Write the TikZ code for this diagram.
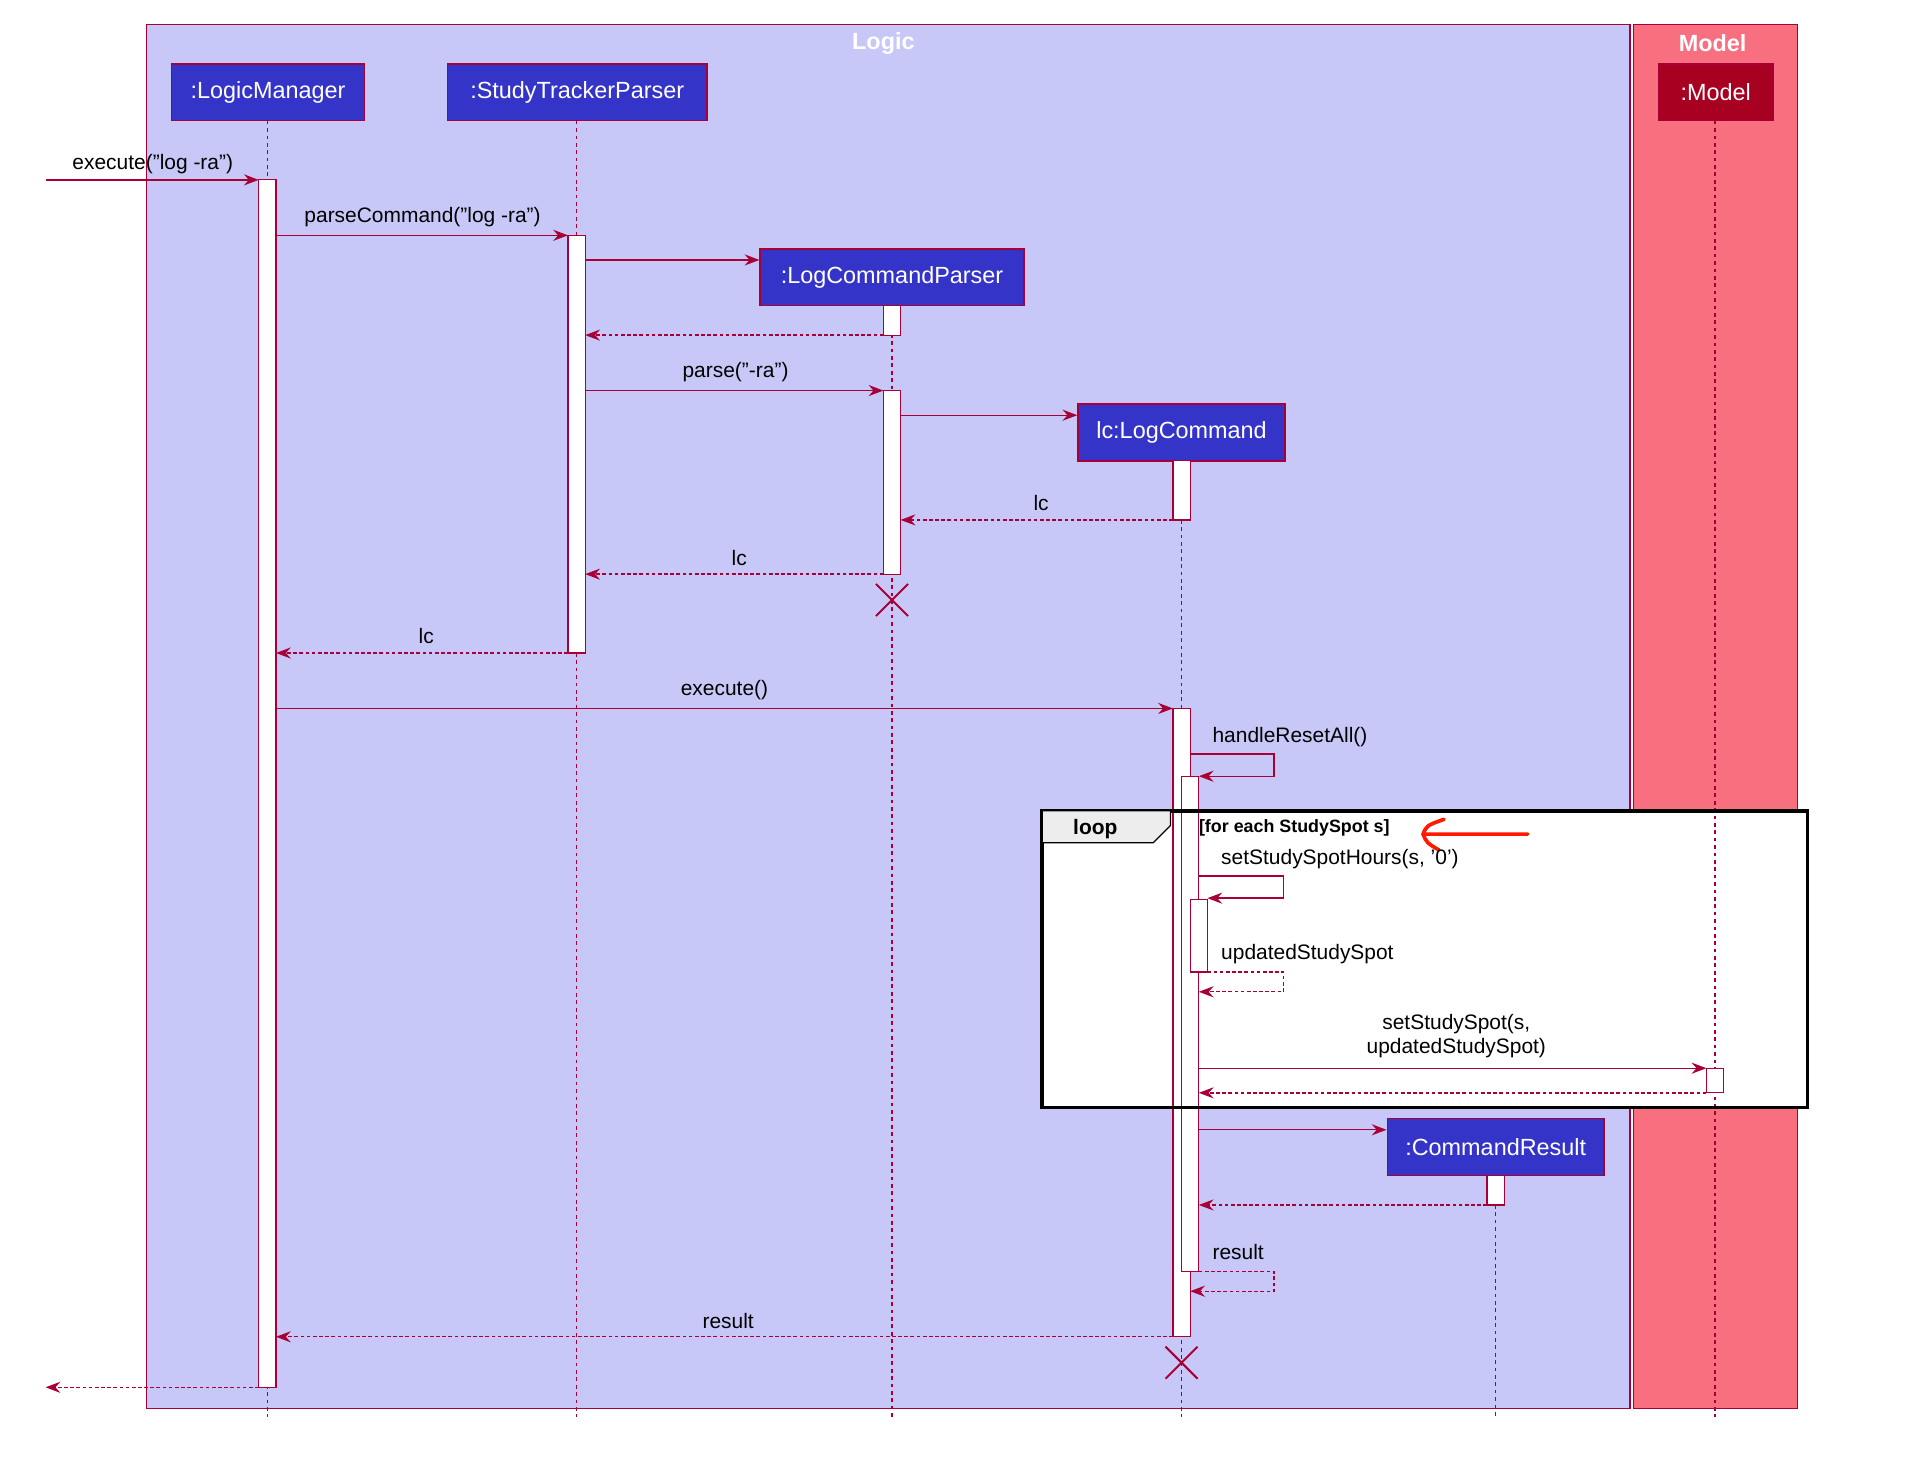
\documentclass[tikz,border=0pt]{standalone}
\usepackage{fontspec}
\setmainfont{Liberation Sans}
\usetikzlibrary{arrows.meta}
\definecolor{ln}{RGB}{168,0,54}
\definecolor{lg}{RGB}{200,200,248}
\definecolor{md}{RGB}{248,112,128}
\definecolor{pt}{RGB}{52,52,200}
\definecolor{mdp}{RGB}{168,0,32}
\newcommand\dq{\symbol{34}}
\newcommand\sq{\symbol{39}}
\begin{document}
\begin{tikzpicture}[x=1pt,y=-1pt,
 part/.style={draw=ln,fill=pt,text=white,font=\fontsize{19}{21}\selectfont,minimum height=46,inner xsep=2,line width=1.2},
 act/.style={draw=ln,fill=white,line width=1},
 life/.style={draw=ln,dashed,line width=0.9},
 msg/.style={draw=ln,line width=1.1,-{Stealth[length=12,width=9,inset=4]}},
 ret/.style={msg,dash pattern=on 3pt off 2pt},
 lab/.style={font=\fontsize{17}{19}\selectfont,inner sep=1},
 xx/.style={draw=ln,line width=1.6}]
\useasboundingbox (0,0) rectangle (1560,1190);
\fill[white] (0,0) rectangle (1560,1190);
\draw[ln,fill=lg,line width=1.2] (119,20) rectangle (1323,1143);
\draw[ln,fill=md,line width=1.2] (1326,20) rectangle (1459,1143);
\node[text=white,font=\bfseries\fontsize{19}{21}\selectfont] (tl) at (717,35) {Logic};
\node[text=white,font=\bfseries\fontsize{19}{21}\selectfont] (tm) at (1390,35) {Model};
% loop background
\fill[white] (846,658) rectangle (1467,899);
% lifelines
\draw[life] (217,98) -- (217,1150);
\draw[life] (468,98) -- (468,1150);
\draw[life] (724,247) -- (724,1150);
\draw[life] (959,374) -- (959,1150);
\draw[life] (1214,954) -- (1214,1150);
\draw[life] (1392,98) -- (1392,1150);
% participants
\node[part,minimum width=157] (lm) at (217.5,75) {:LogicManager};
\node[part,minimum width=211] (stp) at (468.5,75) {:StudyTrackerParser};
\node[part,fill=mdp,minimum width=93] (mo) at (1392.5,75) {:Model};
\node[part,minimum width=214] (lcp) at (724,225) {:LogCommandParser};
\node[part,minimum width=168] (lc) at (959,351) {lc:LogCommand};
\node[part,minimum width=176] (cr) at (1214,931) {:CommandResult};
% activations
\draw[act] (210,146) rectangle (224,1126);
\draw[act] (461,191) rectangle (475,530);
\draw[act] (717,248) rectangle (731,272);
\draw[act] (717,317) rectangle (731,466);
\draw[act] (952,374) rectangle (966,422);
\draw[act] (952,575) rectangle (966,1085);
\draw[act] (959,630) rectangle (973,1032);
\draw[act] (966,730) rectangle (980,789);
\draw[act] (1385,867) rectangle (1399,887);
\draw[act] (1207,954) rectangle (1221,978);
% destroy
\draw[xx] (711,474) -- (737,500) (737,474) -- (711,500);
\draw[xx] (946,1093) -- (972,1119) (972,1093) -- (946,1119);
% loop frame
\draw[black,line width=3] (846,658) rectangle (1467,899);
\draw[black,fill=black!7,line width=1] (846,658) -- (950,658) -- (950,670) -- (936,684) -- (846,684) -- cycle;
\node[font=\bfseries\fontsize{17}{19}\selectfont] (lt) at (889,673) {loop};
\node[anchor=west,font=\bfseries\fontsize{14.5}{16}\selectfont,inner sep=0] (gd) at (973,672) {[for each StudySpot s]};
\coordinate (ha) at (1240,677);
\coordinate (hb) at (1155,677);
\draw[red!80!orange,line width=3,line cap=round] (ha) -- (hb) (1172,665) .. controls (1158,670) .. (1155,677) .. controls (1158,684) .. (1168,690);
% messages
\coordinate (s0) at (37,146);
\draw[msg] (s0) -- (210,146);
\node[lab] at (124,133) {execute(\dq log -ra\dq)};
\draw[msg] (224,191) -- (461,191);
\node[lab] at (343,176) {parseCommand(\dq log -ra\dq)};
\draw[msg] (475,211) -- (lcp.west |- 0,211);
\draw[ret] (717,272) -- (475,272);
\draw[msg] (475,317) -- (717,317);
\node[lab] at (597,302) {parse(\dq-ra\dq)};
\draw[msg] (731,337) -- (lc.west |- 0,337);
\draw[ret] (952,422) -- (731,422);
\node[lab] at (845,408) {lc};
\draw[ret] (717,466) -- (475,466);
\node[lab] at (600,453) {lc};
\draw[ret] (461,530) -- (224,530);
\node[lab] at (346,516) {lc};
\draw[msg] (224,575) -- (952,575);
\node[lab] at (588,560) {execute()};
\draw[msg] (966,612) -- (1034,612) -- (1034,630) -- (973,630);
\node[lab,anchor=west] at (983,598) {handleResetAll()};
\draw[msg] (973,711) -- (1042,711) -- (1042,729) -- (980,729);
\node[lab,anchor=west] at (990,697) {setStudySpotHours(s, \sq 0\sq)};
\draw[ret] (980,789) -- (1042,789) -- (1042,805) -- (973,805);
\node[lab,anchor=west] at (990,774) {updatedStudySpot};
\draw[msg] (973,867) -- (1385,867);
\node[lab,align=center] at (1182,841) {setStudySpot(s,\\updatedStudySpot)};
\draw[ret] (1385,887) -- (973,887);
\draw[msg] (973,917) -- (cr.west |- 0,917);
\draw[ret] (1207,978) -- (973,978);
\draw[ret] (973,1032) -- (1034,1032) -- (1034,1048) -- (966,1048);
\node[lab,anchor=west] at (983,1016) {result};
\draw[ret] (952,1085) -- (224,1085);
\node[lab] at (591,1072) {result};
\coordinate (s1) at (37,1126);
\draw[ret] (210,1126) -- (s1);
\end{tikzpicture}
\end{document}
